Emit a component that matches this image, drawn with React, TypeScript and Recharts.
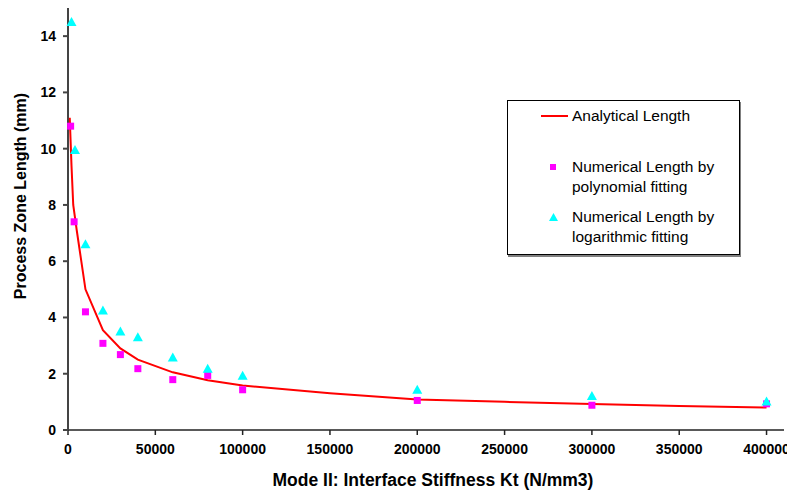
import { ScatterChart, Scatter, XAxis, YAxis, Legend, Label } from 'recharts';

// stiffness Kt (N/mm3) vs process zone length (mm)
const analyticalK = [1000, 2000, 3000, 5000, 10000, 20000, 30000, 40000, 60000, 80000, 100000, 150000, 200000, 250000, 300000, 350000, 400000];
const analyticalLength = [11.1, 9.4, 8.0, 7.1, 5.0, 3.55, 2.9, 2.5, 2.05, 1.77, 1.58, 1.31, 1.08, 1.0, 0.92, 0.85, 0.8];

const polyK = [1500, 3500, 10000, 20000, 30000, 40000, 60000, 80000, 100000, 200000, 300000, 400000];
const polyLength = [10.8, 7.4, 4.2, 3.08, 2.68, 2.18, 1.79, 1.94, 1.43, 1.05, 0.88, 0.93];

const logK = [2000, 4000, 10000, 20000, 30000, 40000, 60000, 80000, 100000, 200000, 300000, 400000];
const logLength = [14.5, 9.95, 6.6, 4.25, 3.5, 3.3, 2.58, 2.18, 1.93, 1.43, 1.21, 1.01];

const xTicks = [0, 50000, 100000, 150000, 200000, 250000, 300000, 350000, 400000];
const yTicks = [0, 2, 4, 6, 8, 10, 12, 14];

const FONT = '"Liberation Sans", Arial, sans-serif';

const toPoints = (xs: number[], ys: number[]) => xs.map((x, i) => ({ x, y: ys[i] }));

const Square = (props: any) => {
  const { cx, cy } = props;
  return <rect x={cx - 3.5} y={cy - 3.5} width={7} height={7} fill="#FF00FF" />;
};

const Triangle = (props: any) => {
  const { cx, cy } = props;
  return <polygon points={`${cx},${cy - 5} ${cx - 5},${cy + 4} ${cx + 5},${cy + 4}`} fill="#00FFFF" />;
};

const NoDot = () => <g />;

function LegendBox() {
  const text = { position: 'absolute' as const, left: 64, fontSize: 15.5, lineHeight: '20px', color: '#000', whiteSpace: 'nowrap' as const };
  return (
    <div
      style={{
        position: 'relative',
        width: 233,
        height: 155,
        boxSizing: 'border-box',
        border: '1px solid #000',
        boxShadow: '1px 2px 0 #808080',
        background: '#fff',
        fontFamily: FONT,
      }}
    >
      <div style={{ position: 'absolute', left: 33, top: 14, width: 27, height: 2, background: '#FF0000' }} />
      <div style={{ ...text, top: 5 }}>Analytical Length</div>

      <div style={{ position: 'absolute', left: 42, top: 63, width: 6, height: 6, background: '#FF00FF' }} />
      <div style={{ ...text, top: 56 }}>Numerical Length by</div>
      <div style={{ ...text, top: 76 }}>polynomial fitting</div>

      <svg style={{ position: 'absolute', left: 41, top: 112 }} width={9} height={8}>
        <polygon points="4.5,0 0,8 9,8" fill="#00FFFF" />
      </svg>
      <div style={{ ...text, top: 106 }}>Numerical Length by</div>
      <div style={{ ...text, top: 126 }}>logarithmic fitting</div>
    </div>
  );
}

const labelStyle = { fontWeight: 'bold', fill: '#000', fontFamily: FONT };

const YTitle = () => (
  <text x={26} y={196} transform="rotate(-90 26 196)" textAnchor="middle" fontSize={16} style={labelStyle}>
    Process Zone Length (mm)
  </text>
);

const XTitle = () => (
  <text x={433} y={486} textAnchor="middle" fontSize={17.5} style={labelStyle}>
    Mode II: Interface Stiffness Kt (N/mm3)
  </text>
);

export default function App() {
  const tickStyle = { fontSize: 14, fontWeight: 'bold', fill: '#000', fontFamily: FONT };
  return (
    <div style={{ position: 'absolute', left: 0, top: 0, width: 787, height: 492, background: '#fff' }}>
      <ScatterChart width={787} height={492} margin={{ top: 8, right: 3, bottom: 0, left: 0 }}>
        <XAxis
          type="number"
          dataKey="x"
          domain={[0, 410000]}
          ticks={xTicks}
          interval={0}
          tickSize={5}
          tickMargin={9}
          height={62}
          stroke="#222"
          strokeWidth={1.5}
          tick={tickStyle}
        >
          <Label content={XTitle} />
        </XAxis>
        <YAxis
          type="number"
          dataKey="y"
          domain={[0, 15]}
          ticks={yTicks}
          interval={0}
          width={68}
          tickSize={5}
          tickMargin={7}
          stroke="#444"
          strokeWidth={2}
          tick={tickStyle}
        >
          <Label content={YTitle} />
        </YAxis>
        <Legend
          layout="horizontal"
          verticalAlign="middle"
          align="center"
          wrapperStyle={{ left: 507, top: 100, width: 233, height: 155 }}
          content={() => <LegendBox />}
        />
        <Scatter
          name="Analytical Length"
          data={toPoints(analyticalK, analyticalLength)}
          line={{ stroke: '#FF0000', strokeWidth: 2 }}
          lineType="joint"
          shape={NoDot}
          isAnimationActive={false}
        />
        <Scatter
          name="Numerical Length by polynomial fitting"
          data={toPoints(polyK, polyLength)}
          shape={Square}
          isAnimationActive={false}
        />
        <Scatter
          name="Numerical Length by logarithmic fitting"
          data={toPoints(logK, logLength)}
          shape={Triangle}
          isAnimationActive={false}
        />
      </ScatterChart>
    </div>
  );
}
